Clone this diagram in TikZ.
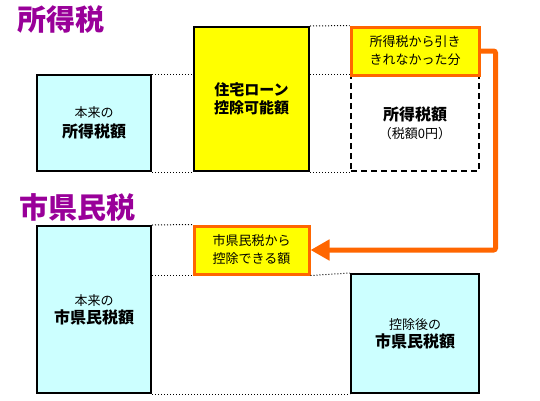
\documentclass[tikz,border=0pt]{standalone}
\usepackage{fontspec}
\newfontfamily\jp{Noto Sans CJK JP}
\usetikzlibrary{arrows.meta}

\definecolor{titlepurple}{RGB}{153,0,153}
\definecolor{boxcyan}{RGB}{204,255,255}
\definecolor{boxyellow}{RGB}{255,255,0}
\definecolor{lineorange}{RGB}{255,102,0}

\newcommand{\bigjp}{\fontsize{16}{19}\selectfont\bfseries}

\begin{document}
\begin{tikzpicture}[x=1pt,y=-1pt]

      \useasboundingbox (0,0) rectangle (540,400);

      % titles
      \begin{scope}[every node/.style={anchor=west,inner sep=0pt,text=titlepurple,
          font=\jp\bfseries\fontsize{29}{29}\selectfont}]
        \node (itax) at (17,19) {所得税};
        \node (rtax) at (19,207) {市県民税};
      \end{scope}

      \begin{scope}[every node/.style={draw,line width=2pt,align=center,inner sep=0pt,
          font=\jp\fontsize{13}{18}\selectfont}]
        \node[fill=boxcyan,minimum width=114,minimum height=96] (ibase) at (94,123)
          {本来の\\[2pt]{\bigjp 所得税額}};
        \node[fill=boxyellow,minimum width=115,minimum height=144] (loan) at (251.5,99)
          {\bfseries\fontsize{15}{18}\selectfont 住宅ローン\\\bfseries\fontsize{15}{18}\selectfont 控除可能額};
        \node[dashed,dash pattern=on 6pt off 4pt,minimum width=128,minimum height=96] (izero) at (415,123)
          {{\bigjp 所得税額}\\（税額0円）};
        \node[fill=boxyellow,draw=lineorange,line width=3pt,minimum width=128,minimum height=48] (rest) at (415,51)
          {所得税から引き\\きれなかった分};
        \node[fill=boxcyan,minimum width=114,minimum height=167] (rbase) at (94,309.5)
          {本来の\\{\bigjp 市県民税額}};
        \node[fill=boxyellow,draw=lineorange,line width=3pt,minimum width=115,minimum height=48] (rcut) at (251.5,250)
          {市県民税から\\控除できる額};
        \node[fill=boxcyan,minimum width=128,minimum height=119] (rafter) at (415,333.5)
          {控除後の\\{\bigjp 市県民税額}};
      \end{scope}

      % guide lines
      \begin{scope}[line width=1pt,dash pattern=on 1pt off 2pt]
        \draw (ibase.north east) -- (ibase.north east -| loan.west);
        \draw (ibase.south east) -- (loan.south west);
        \draw (loan.north east) -- (rest.north west);
        \draw (loan.east |- izero.north) -- (izero.north west);
        \draw (loan.south east) -- (izero.south west);
        \draw (rbase.north east) -- (rcut.north west);
        \draw (rbase.east |- rcut.south) -- (rcut.south west);
        \draw (rcut.south east) -- (rafter.north west);
        \draw (rbase.south east) -- (rafter.south west);
      \end{scope}

      % carry-over arrow
      \draw[lineorange,line width=5pt,rounded corners=2pt,
          -{Triangle[length=19pt,width=20pt]}]
        (rest.east) -- ++(15,0) |- (rcut.east);

    \end{tikzpicture}
\end{document}
